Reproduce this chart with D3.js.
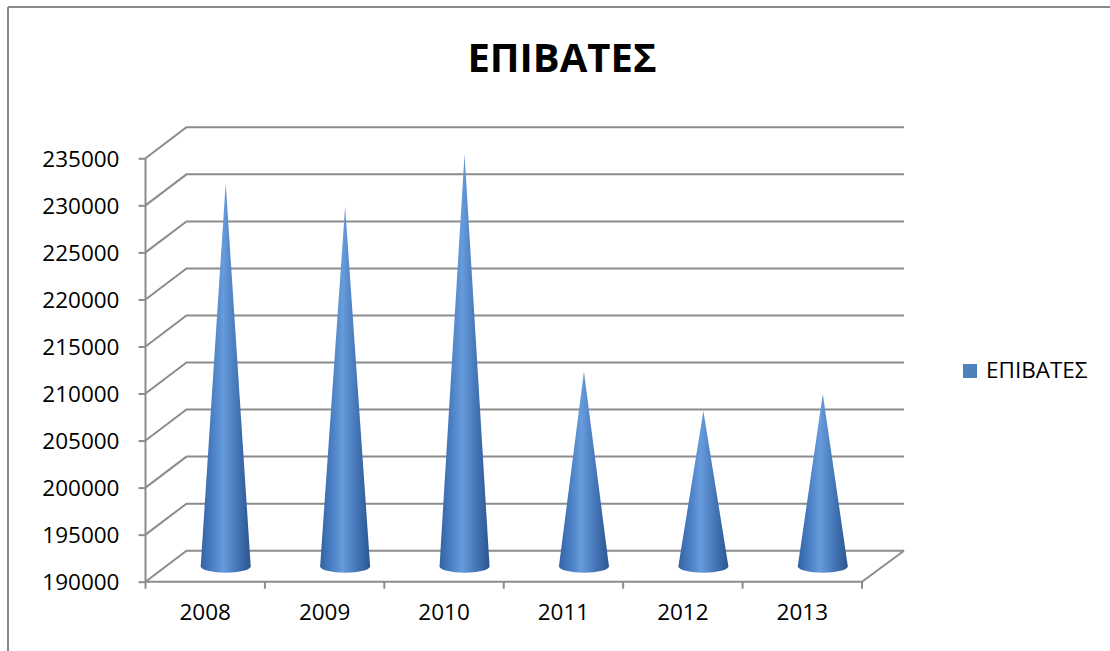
<!DOCTYPE html>
<html>
<head>
<meta charset="utf-8">
<script src="https://cdn.jsdelivr.net/npm/d3@7"></script>
<style>
  body { margin: 0; background: #fff; }
  svg { display: block; font-family: "Open Sans", sans-serif; }
</style>
</head>
<body>
<div id="chart"></div>
<script>
// data
var years = ["2008", "2009", "2010", "2011", "2012", "2013"];
var passengers = [230700, 228200, 233800, 210700, 206500, 208300];
var seriesName = "ΕΠΙΒΑΤΕΣ";
var chartTitle = "ΕΠΙΒΑΤΕΣ";
var yDomain = [190000, 235000];

var W = 1110, H = 651;
// 3d depth offset of the back wall
var depthX = 41, depthY = -31;

var svg = d3.select("#chart").append("svg")
    .attr("width", W)
    .attr("height", H);

// cone gradient
var defs = svg.append("defs");
var grad = defs.append("linearGradient")
    .attr("id", "coneGrad")
    .attr("x1", "0%").attr("x2", "100%")
    .attr("y1", "0%").attr("y2", "0%");
grad.append("stop").attr("offset", "0%").attr("stop-color", "#3462a3");
grad.append("stop").attr("offset", "20%").attr("stop-color", "#477bc1");
grad.append("stop").attr("offset", "45%").attr("stop-color", "#669bdc");
grad.append("stop").attr("offset", "75%").attr("stop-color", "#4373b4");
grad.append("stop").attr("offset", "100%").attr("stop-color", "#2b5691");

// chart frame (top and left only, the picture is cropped)
svg.append("line")
    .attr("x1", 8).attr("x2", W).attr("y1", 7).attr("y2", 7)
    .attr("stroke", "#8a8a8a").attr("stroke-width", 2);
svg.append("line")
    .attr("x1", 8).attr("x2", 8).attr("y1", 7).attr("y2", H)
    .attr("stroke", "#8a8a8a").attr("stroke-width", 2);

// scales
var xScale = d3.scaleBand()
    .domain(years)
    .range([145.5, 862]);

var yScale = d3.scaleLinear()
    .domain(yDomain)
    .range([581.7, 158.3]);

var ticks = yScale.ticks(10);
var gridColor = "#8c8c8c";
var x0 = xScale.range()[0], x1 = xScale.range()[1];

// gridlines: left wall diagonal + back wall horizontal
var grid = svg.append("g");
grid.selectAll("path")
    .data(ticks)
    .enter()
    .append("path")
    .attr("d", function (d) {
        var y = yScale(d);
        return "M" + x0 + "," + y +
            "L" + (x0 + depthX) + "," + (y + depthY) +
            "L" + (x1 + depthX + 1) + "," + (y + depthY);
    })
    .attr("fill", "none")
    .attr("stroke", gridColor)
    .attr("stroke-width", 2);

// floor right edge
grid.append("line")
    .attr("x1", x1).attr("y1", yScale(yDomain[0]))
    .attr("x2", x1 + depthX + 1).attr("y2", yScale(yDomain[0]) + depthY)
    .attr("stroke", gridColor).attr("stroke-width", 2);

// axes
var yAxis = svg.append("g")
    .attr("transform", "translate(" + x0 + ",0)")
    .call(d3.axisLeft(yScale).tickValues(ticks).tickSize(7).tickPadding(19).tickFormat(d3.format("d")));

var xAxis = svg.append("g")
    .attr("transform", "translate(0," + yScale(yDomain[0]) + ")")
    .call(d3.axisBottom(xScale).tickSize(0).tickPadding(22));

// x ticks at band edges
var edges = years.map(function (d) { return xScale(d); }).concat([x1]);
xAxis.selectAll(".edge")
    .data(edges)
    .enter()
    .append("line")
    .attr("class", "edge")
    .attr("x1", function (d) { return d; })
    .attr("x2", function (d) { return d; })
    .attr("y1", 0).attr("y2", 7)
    .attr("stroke", gridColor).attr("stroke-width", 2);

[yAxis, xAxis].forEach(function (ax) {
    ax.selectAll(".domain").attr("stroke", gridColor).attr("stroke-width", 2);
    ax.selectAll(".tick line").attr("stroke", gridColor).attr("stroke-width", 2);
    ax.selectAll("text")
        .attr("fill", "#000")
        .style("font-size", "22.5px")
        .style("font-family", "'Open Sans', sans-serif");
});
yAxis.select(".domain").attr("d", "M0," + yScale(yDomain[1]) + "V" + yScale(yDomain[0]));
xAxis.select(".domain").attr("d", "M" + x0 + ",0H" + x1);
yAxis.selectAll("text").attr("dy", "0.36em");
xAxis.selectAll("text").attr("dy", "0.71em");

// cones, standing in the middle of the depth
var midX = depthX / 2, midY = depthY / 2;
var rx = 25, ry = 6.5;
svg.append("g").selectAll("path")
    .data(years)
    .enter()
    .append("path")
    .attr("d", function (d, i) {
        var cx = xScale(d) + xScale.bandwidth() / 2 + midX;
        var by = yScale(yDomain[0]) + midY;
        var ay = yScale(passengers[i]) + midY;
        return "M" + cx + "," + ay +
            "L" + (cx - rx) + "," + by +
            "A" + rx + "," + ry + " 0 0 0 " + (cx + rx) + "," + by +
            "Z";
    })
    .attr("fill", "url(#coneGrad)");

// title
svg.append("text")
    .attr("x", 562)
    .attr("y", 72)
    .attr("text-anchor", "middle")
    .style("font-size", "40px")
    .style("font-weight", "bold")
    .text(chartTitle);

// legend
var legend = svg.append("g").attr("transform", "translate(963,364)");
legend.append("rect")
    .attr("width", 14).attr("height", 14)
    .attr("fill", "#4f81bd");
legend.append("text")
    .attr("x", 23).attr("y", 14)
    .style("font-size", "22.5px")
    .text(seriesName);
</script>
</body>
</html>
